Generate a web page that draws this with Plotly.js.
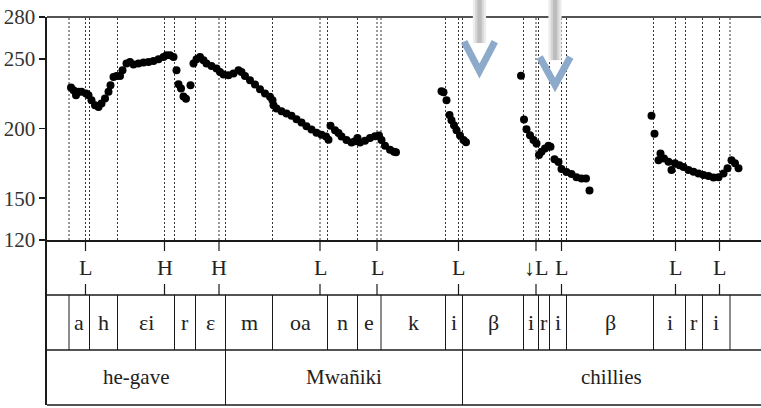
<!DOCTYPE html>
<html>
<head>
<meta charset="utf-8">
<script src="https://cdn.plot.ly/plotly-3.0.1.min.js"></script>
<style>html,body{margin:0;padding:0;background:#fff;}#chart{width:761px;height:408px;}
#chart text{font-family:"Liberation Serif","Times New Roman","DejaVu Serif",serif !important;}</style>
</head>
<body>
<div id="chart"></div>
<script>
// Pitch track: time (ms) and F0 (Hz)
const timeMs = [
  48,53,58,63,69,78,83,89,96,103,109,116,123,127,133,139,146,151,159,166,173,183,193,203,213,223,233,239,246,253,
  259,263,268,273,278,287,
  293,299,306,313,319,329,339,346,353,363,373,383,389,396,406,416,426,436,446,451,453,459,469,479,489,499,509,519,529,539,549,558,563,
  567,576,583,589,599,609,616,621,626,636,646,656,664,669,676,686,694,698,
  789,793,799,805,809,814,819,826,833,838,
  948,954,959,966,973,979,984,989,996,1003,1007,1015,1023,1029,1039,1049,1059,1069,1078,1085,
  1209,1215,1223,1227,1234,1243,1249,1256,1265,1273,1283,1293,1303,1313,1323,1333,1343,1353,1361,1369,1376,1383
];
const f0Hz = [
  229.4,227.5,223.9,226.3,226.3,225.1,223.9,220.3,216.7,215.5,218,221.5,226.3,231.1,237,237.7,237.7,241.8,246.6,247.8,245.9,246.6,247.3,247.8,248.5,249.7,251.3,252.6,252.6,251.3,
  241.8,231.8,228.7,223,221.3,231.1,
  246.6,249.7,251.3,249,246.6,244.9,243,240.6,238.7,238.2,239.4,241.8,240.6,237.7,234.6,231.6,228.2,225.1,222.7,220.3,216.7,214.4,212.4,210.8,209.1,206.7,204.3,201.7,199.2,197,195.6,194.2,192,
  202,198.8,196.7,194.2,191.7,189.9,190.9,193.1,189.9,191.3,193.1,194.5,194.9,191.7,187.7,184.8,183.4,183,
  226.8,226,220.3,209.6,206,202.4,198.8,194.9,191.7,190.2,
  237.9,206.5,199.5,195.2,191.7,189.3,180.9,183.3,185.7,187.7,186.9,178,175.9,170.9,168.7,167.3,165.1,164.2,164.2,155.6,
  209.2,196.3,177.3,182.1,178.5,176.1,170.2,175,173.7,172.3,170.2,168.9,167.8,166.6,165.9,164.9,165.1,167.8,171.4,177.3,175,171.4
];
const yTicks = [120,150,200,250,280];

// Tone tier
const toneTimes = [77,235,344,546,660,823,978,1029,1257,1345];
const toneLabels = ["L","H","H","L","L","L","↓L","L","L","L"];

// Segment tier
const segBounds = [44,85,141,255,297,357,451,561,621,668,797,831,953,983,1005,1039,1213,1277,1311,1366];
const segLabels = ["a","h","εi","r","ε","m","oa","n","e","k","i","β","i","r","i","β","i","r","i"];

// Word tier
const wordBounds = [0,357,831,1428];
const wordLabels = ["he-gave","Mwañiki","chillies"];

const xMax = 1428;
const FONT = "Times New Roman";
const LC = "#1a1a1a";

const shapes = [];
const annotations = [];

// dotted boundary lines in pitch panel
const dotted = Array.from(new Set(segBounds.concat(toneTimes))).sort((a,b)=>a-b);
dotted.forEach(t => shapes.push({type:"line", xref:"x", yref:"y", x0:t, x1:t, y0:120, y1:280,
  line:{color:"#333", width:1, dash:"2px,2px"}, layer:"below"}));

// top border
shapes.push({type:"line", xref:"paper", yref:"paper", x0:0, x1:1, y0:1, y1:1, line:{color:LC, width:1.6}});
// tier horizontal lines
[2/3, 1/3, 0].forEach(f => shapes.push({type:"line", xref:"paper", yref:"paper", x0:0, x1:1,
  y0:f*0.42526, y1:f*0.42526, line:{color:LC, width:1.4}}));

// tone ticks and labels
toneTimes.forEach((t,i) => {
  shapes.push({type:"line", xref:"x", yref:"y2", x0:t, x1:t, y0:3, y1:2.8, line:{color:LC, width:1.2}});
  shapes.push({type:"line", xref:"x", yref:"y2", x0:t, x1:t, y0:2.2, y1:2, line:{color:LC, width:1.2}});
  annotations.push({xref:"x", yref:"y2", x:t, y:2.5, text:toneLabels[i], showarrow:false,
    font:{family:FONT, size:22, color:"#222"}, xanchor:"center", yanchor:"middle"});
});

// segment boundaries and labels
segBounds.forEach(t => shapes.push({type:"line", xref:"x", yref:"y2", x0:t, x1:t, y0:1, y1:2, line:{color:LC, width:1}}));
segLabels.forEach((s,i) => annotations.push({xref:"x", yref:"y2", x:(segBounds[i]+segBounds[i+1])/2, y:1.5,
  text:s, showarrow:false, font:{family:FONT, size:22, color:"#222"}, xanchor:"center", yanchor:"middle"}));

// word boundaries and labels
wordBounds.slice(1,-1).forEach(t => shapes.push({type:"line", xref:"x", yref:"y2", x0:t, x1:t, y0:0, y1:1, line:{color:LC, width:1}}));
wordLabels.forEach((w,i) => annotations.push({xref:"x", yref:"y2", x:(wordBounds[i]+wordBounds[i+1])/2, y:0.5,
  text:w, showarrow:false, font:{family:FONT, size:21, color:"#222"}, xanchor:"center", yanchor:"middle"}));

// overlay arrows (grey shaft + blue chevron), paper coordinates
const arrowCx = [0.6057, 0.7115];
const arrowShaftEnd = [0.933, 0.889];
const arrowChevTop = [0.9363, 0.8969];
const arrowChevTip = [0.8608, 0.8247];
arrowCx.forEach((cx,i) => {
  [[0.0185,"#ececec"],[0.012,"#d6d6d6"],[0.006,"#bdbdbd"]].forEach(([w,c]) =>
    shapes.push({type:"rect", xref:"paper", yref:"paper", x0:cx-w/2, x1:cx+w/2, y0:arrowShaftEnd[i], y1:1.05,
      fillcolor:c, line:{width:0}, layer:"above"}));
  const hw = 0.0215;
  shapes.push({type:"path", xref:"paper", yref:"paper",
    path:`M ${cx-hw},${arrowChevTop[i]} L ${cx},${arrowChevTip[i]} L ${cx+hw},${arrowChevTop[i]}`,
    line:{color:"#8eaacb", width:7}, layer:"above"});
});

const data = [
  {x: timeMs, y: f0Hz, type:"scatter", mode:"markers", xaxis:"x", yaxis:"y",
   marker:{color:"#000", size:8}, hoverinfo:"skip"},
  {x:[0], y:[0], type:"scatter", mode:"markers", xaxis:"x", yaxis:"y2",
   marker:{opacity:0}, hoverinfo:"skip", showlegend:false}
];

const layout = {
  width:761, height:408,
  margin:{l:47, r:0, t:17, b:3, pad:0},
  paper_bgcolor:"#fff", plot_bgcolor:"#fff",
  showlegend:false,
  font:{family:FONT},
  xaxis:{range:[0,xMax], anchor:"y", showline:true, linecolor:LC, linewidth:1.6,
    showgrid:false, zeroline:false, showticklabels:false, ticks:""},
  yaxis:{domain:[0.42526,1], range:[120,280], tickvals:yTicks, ticktext:yTicks.map(String),
    showline:true, linecolor:LC, linewidth:1.6, ticks:"outside", ticklen:6, tickwidth:1.4, tickcolor:LC,
    showgrid:false, zeroline:false, tickfont:{family:FONT, size:21, color:"#333"}},
  yaxis2:{domain:[0,0.42526], range:[0,3], anchor:"x", showline:true, linecolor:LC, linewidth:1.6,
    showgrid:false, zeroline:false, showticklabels:false, ticks:""},
  shapes: shapes,
  annotations: annotations
};

Plotly.newPlot("chart", data, layout, {staticPlot:true, displayModeBar:false});
</script>
</body>
</html>
